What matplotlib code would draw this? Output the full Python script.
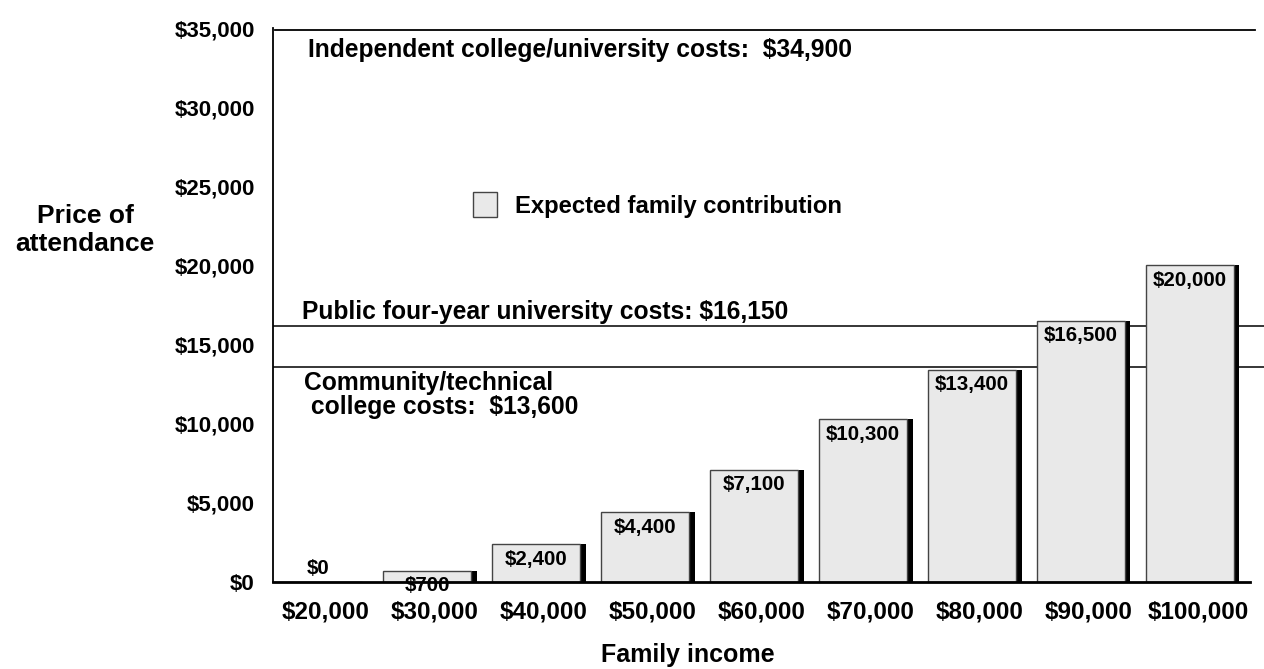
import matplotlib
matplotlib.use("Agg")
import matplotlib.pyplot as plt
import matplotlib.transforms as mtransforms
from matplotlib.patches import Patch

# ---- data ----
income_labels = ["$20,000", "$30,000", "$40,000", "$50,000", "$60,000",
                 "$70,000", "$80,000", "$90,000", "$100,000"]
efc_values = [0, 700, 2400, 4400, 7100, 10300, 13400, 16500, 20000]
efc_labels = ["$0", "$700", "$2,400", "$4,400", "$7,100", "$10,300",
              "$13,400", "$16,500", "$20,000"]
cost_independent = 34900
cost_public = 16150
cost_community = 13600
y_ticks = [0, 5000, 10000, 15000, 20000, 25000, 30000, 35000]
y_tick_labels = ["$0", "$5,000", "$10,000", "$15,000", "$20,000",
                 "$25,000", "$30,000", "$35,000"]

plt.rcParams['font.family'] = ['Liberation Sans', 'DejaVu Sans']
plt.rcParams['font.weight'] = 'bold'

W, H = 1264, 669
fig = plt.figure(figsize=(W / 100, H / 100), dpi=100)
ax_left, ax_bottom = 273 / W, (H - 582) / H
ax_top = (H - 28) / H
ax = fig.add_axes([ax_left, ax_bottom, 1 - ax_left, ax_top - ax_bottom])

x = list(range(len(efc_values)))
xmin, xmax = -0.413, 8.68
ax.set_xlim(xmin, xmax)
ax.set_ylim(0, 35000)

bar_w = 0.81
shadow_w = 0.055

# cost lines (behind bars)
ax.plot([xmin + 0.02, 8.6], [cost_independent] * 2, color='black', lw=1.3, zorder=1)
ax.axhline(cost_public, color='black', lw=1.1, zorder=1)
ax.axhline(cost_community, color='black', lw=1.1, zorder=1)

# shadows
ax.bar([xi + bar_w / 2 + shadow_w / 2 - 0.005 for xi in x], efc_values,
       width=shadow_w, color='black', zorder=2, linewidth=0)
# bars
ax.bar(x, efc_values, width=bar_w, color='#e9e9e9', edgecolor='#444444',
       linewidth=1.0, zorder=3)

for xi, v, lab in zip(x, efc_values, efc_labels):
    if v == 0:
        ax.annotate(lab, (xi, v), xytext=(0, 3), textcoords='offset points',
                    ha='center', va='bottom', fontsize=14.8, fontweight='bold', zorder=5)
    else:
        ax.annotate(lab, (xi, v), xytext=(0, -4), textcoords='offset points',
                    ha='center', va='top', fontsize=14.8, fontweight='bold', zorder=5)

# axis styling
for s in ['top', 'right']:
    ax.spines[s].set_visible(False)
ax.spines['left'].set_linewidth(1.3)
ax.spines['bottom'].set_bounds(xmin, 8.55)
ax.spines['bottom'].set_linewidth(2.0)
ax.spines['bottom'].set_zorder(4)
ax.set_yticks(y_ticks)
ax.set_yticklabels(y_tick_labels, fontsize=16, fontweight='bold')
ax.set_xticks(x)
ax.set_xticklabels(income_labels, fontsize=17.5, fontweight='bold')
ax.tick_params(axis='both', length=0)
ax.tick_params(axis='y', pad=13)
ax.tick_params(axis='x', pad=13)
shift = mtransforms.ScaledTranslation(8 / 100, 0, fig.dpi_scale_trans)
for lbl in ax.get_xticklabels():
    lbl.set_transform(lbl.get_transform() + shift)

# annotations for cost lines
ax.annotate("Independent college/university costs:  $34,900", (-0.092, cost_independent),
            xytext=(0, -6), textcoords='offset points',
            ha='left', va='top', fontsize=17.7, fontweight='bold')
ax.annotate("Public four-year university costs: $16,150", (-0.147, cost_public),
            xytext=(0, 2), textcoords='offset points',
            ha='left', va='bottom', fontsize=17.7, fontweight='bold')
ax.annotate("Community/technical\n college costs:  $13,600", (-0.13, cost_community),
            xytext=(0, -3), textcoords='offset points',
            ha='left', va='top', fontsize=17.7, fontweight='bold', linespacing=1.0)

# legend
handle = Patch(facecolor='#e9e9e9', edgecolor='#444444', linewidth=1.0,
               label='Expected family contribution')
fig.legend(handles=[handle], loc='center left',
           bbox_to_anchor=(473 / W, 1 - 205 / H), frameon=False,
           fontsize=17.2, handlelength=1.0, handleheight=1.2,
           handletextpad=0.75, borderpad=0, borderaxespad=0)

# axis labels
fig.text(85 / W, 1 - 230 / H, "Price of\nattendance", ha='center', va='center',
         fontsize=19, fontweight='bold', linespacing=1.25)
fig.text(688 / W, 1 - 655 / H, "Family income", ha='center', va='center',
         fontsize=18, fontweight='bold')

fig.savefig("out.png", dpi=100)
